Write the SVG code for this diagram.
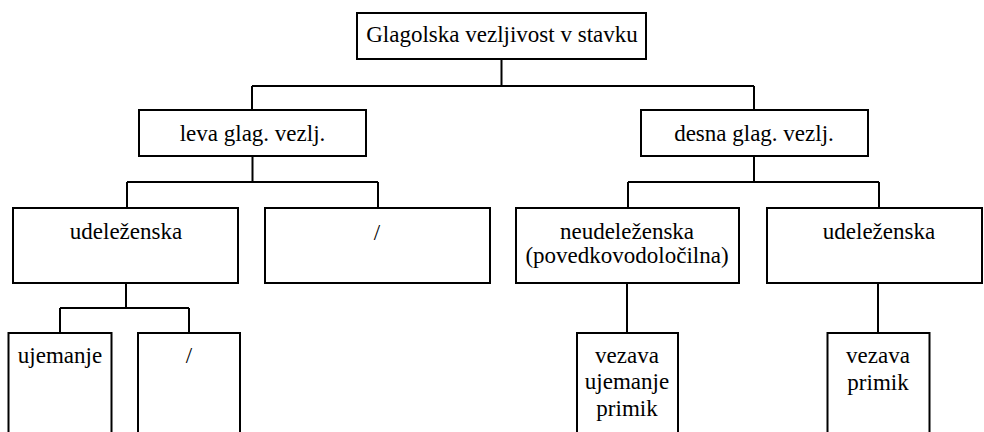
<svg xmlns="http://www.w3.org/2000/svg" width="984" height="432" viewBox="0 0 984 432">
<style>
.box{fill:#fff;stroke:#000;stroke-width:2}
.t{font-family:"Liberation Serif","Times New Roman",serif;font-size:23px;fill:#000;text-anchor:middle}
.c{fill:none;stroke:#000;stroke-width:2}
</style>
<rect width="984" height="432" fill="#fff"/>
<g id="connectors">
<path class="c" d="M501.5 59V86M252 86H754M252 86V110M754 86V110"/>
<path class="c" d="M252.5 156V182M127 182H378M127 182V208M378 182V208"/>
<path class="c" d="M754 156V182M628 182H879M628 182V208M879 182V208"/>
<path class="c" d="M126 283V308M60 308H189M60 308V333M189 308V333"/>
<path class="c" d="M627 283V333"/>
<path class="c" d="M878 283V333"/>
</g>
<g id="root"><rect class="box" x="357" y="13" width="289" height="46"/><text class="t" x="502" y="42">Glagolska vezljivost v stavku</text></g>
<g id="leva"><rect class="box" x="139" y="110" width="227" height="46"/><text class="t" x="252.5" y="141">leva glag. vezlj.</text></g>
<g id="desna"><rect class="box" x="641" y="110" width="227" height="46"/><text class="t" x="754" y="141">desna glag. vezlj.</text></g>
<g id="udelezenska-l"><rect class="box" x="13" y="208" width="225" height="75"/><text class="t" x="126" y="239">udeleženska</text></g>
<g id="slash-l"><rect class="box" x="265" y="208" width="225" height="75"/><text class="t" x="377" y="240">/</text></g>
<g id="neudelezenska"><rect class="box" x="516" y="208" width="223" height="75"/><text class="t" x="627" y="239">neudeleženska</text><text class="t" x="627" y="263">(povedkovodoločilna)</text></g>
<g id="udelezenska-r"><rect class="box" x="767" y="208" width="215" height="75"/><text class="t" x="879" y="239">udeleženska</text></g>
<g id="ujemanje"><rect class="box" x="8.5" y="333" width="103" height="120"/><text class="t" x="60" y="363">ujemanje</text></g>
<g id="slash-ll"><rect class="box" x="138" y="333" width="102" height="120"/><text class="t" x="189" y="363">/</text></g>
<g id="vezava-1"><rect class="box" x="577" y="333" width="101" height="120"/><text class="t" x="627" y="363">vezava</text><text class="t" x="627" y="389">ujemanje</text><text class="t" x="627" y="416">primik</text></g>
<g id="vezava-2"><rect class="box" x="827.5" y="333" width="102" height="120"/><text class="t" x="878" y="363">vezava</text><text class="t" x="878" y="390">primik</text></g>
</svg>
